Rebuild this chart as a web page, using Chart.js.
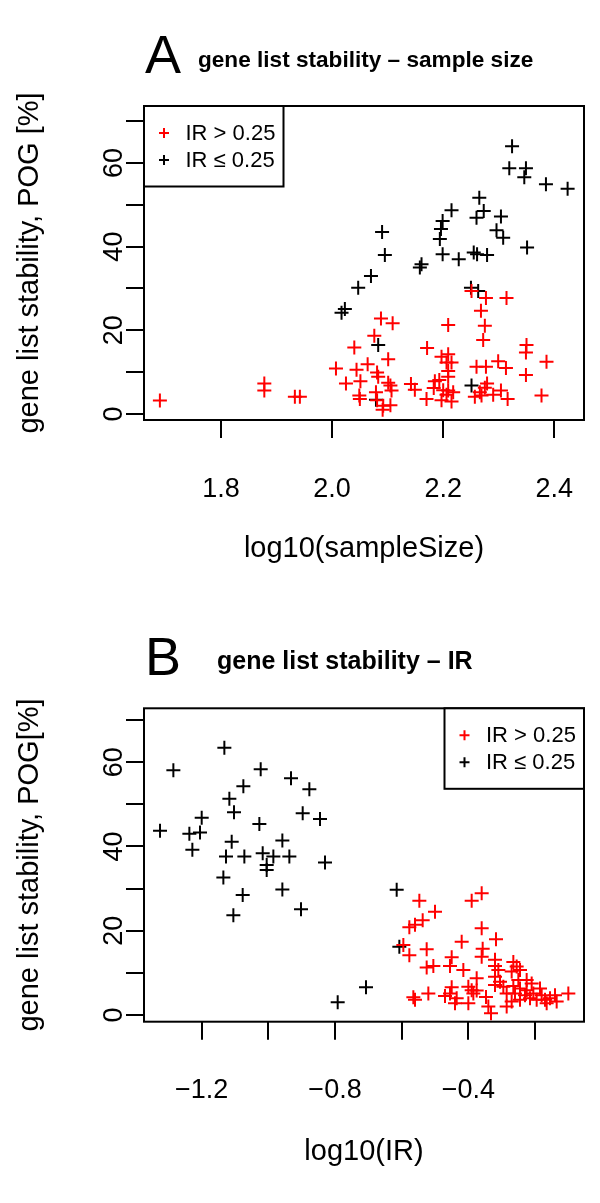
<!DOCTYPE html>
<html>
<head>
<meta charset="utf-8">
<script src="https://cdn.jsdelivr.net/npm/chart.js@4.4.1/dist/chart.umd.min.js"></script>
<style>
html, body { margin: 0; padding: 0; background: #fff; }
.panel { position: absolute; left: 0; width: 600px; }
#boxA { top: 0; height: 600px; }
#boxB { top: 600px; height: 603px; }
</style>
</head>
<body>
<div class="panel" id="boxA"><canvas id="chartA"></canvas></div>
<div class="panel" id="boxB"><canvas id="chartB"></canvas></div>
<script>
'use strict';
// panel A: POG vs log10(sample size)
const sizeRedX = [1.690, 1.878, 1.878, 1.933, 1.942, 2.007, 2.025, 2.040, 2.044, 2.051, 2.049, 2.050, 2.064, 2.076, 2.088, 2.109, 2.101, 2.081, 2.083, 2.101, 2.105, 2.107, 2.079, 2.092, 2.091, 2.105, 2.081, 2.142, 2.149, 2.251, 2.277, 2.314, 2.268, 2.209, 2.275, 2.272, 2.171, 2.350, 2.349, 2.197, 2.209, 2.386, 2.260, 2.277, 2.299, 2.313, 2.206, 2.215, 2.209, 2.209, 2.349, 2.185, 2.193, 2.183, 2.200, 2.209, 2.218, 2.170, 2.197, 2.215, 2.206, 2.257, 2.266, 2.275, 2.279, 2.269, 2.290, 2.304, 2.316, 2.377];
const sizeRedY = [3.2, 7.3, 5.6, 4.1, 4.1, 10.9, 7.3, 15.9, 10.6, 7.8, 4.4, 3.6, 11.9, 18.7, 22.8, 21.7, 13.1, 9.9, 8.9, 7.5, 6.8, 5.6, 5.2, 2.0, 1.0, 2.1, 3.3, 7.2, 5.8, 29.4, 27.7, 27.7, 24.7, 21.3, 21.1, 17.7, 15.8, 16.5, 14.7, 13.7, 14.3, 12.5, 11.3, 11.3, 12.6, 11.0, 12.3, 12.3, 10.3, 8.9, 9.3, 7.8, 8.1, 6.2, 5.7, 5.6, 5.2, 3.6, 3.3, 3.0, 4.6, 4.1, 5.2, 6.3, 7.3, 4.4, 4.6, 5.6, 3.6, 4.4];
const sizeBlackX = [2.324, 2.319, 2.349, 2.346, 2.385, 2.424, 2.265, 2.215, 2.273, 2.260, 2.304, 2.199, 2.196, 2.296, 2.308, 2.194, 2.090, 2.095, 2.351, 2.199, 2.228, 2.255, 2.261, 2.279, 2.161, 2.158, 2.070, 2.047, 2.250, 2.263, 2.023, 2.017, 2.083, 2.079, 2.251];
const sizeBlackY = [64.0, 58.7, 58.7, 56.6, 54.9, 53.8, 51.7, 48.7, 48.5, 46.9, 47.2, 46.1, 44.2, 43.9, 42.1, 41.8, 43.5, 38.0, 39.8, 38.2, 37.0, 38.6, 38.2, 38.0, 35.8, 35.0, 33.0, 30.2, 30.2, 29.4, 25.1, 24.2, 16.5, 3.4, 6.8];

// panel B: POG vs log10(IR)
const irRedX = [-0.547, -0.390, -0.360, -0.500, -0.537, -0.560, -0.577, -0.360, -0.420, -0.317, -0.595, -0.577, -0.525, -0.357, -0.360, -0.450, -0.455, -0.415, -0.505, -0.525, -0.320, -0.320, -0.310, -0.265, -0.255, -0.270, -0.245, -0.375, -0.400, -0.390, -0.450, -0.455, -0.470, -0.435, -0.440, -0.400, -0.385, -0.375, -0.347, -0.340, -0.332, -0.565, -0.560, -0.520, -0.285, -0.320, -0.305, -0.320, -0.295, -0.285, -0.260, -0.245, -0.250, -0.225, -0.210, -0.185, -0.205, -0.230, -0.215, -0.195, -0.180, -0.170, -0.155, -0.140, -0.135, -0.165, -0.100, -0.270, -0.245, -0.265, -0.225];
const irRedY = [27.1, 27.1, 28.9, 24.5, 22.5, 21.4, 20.8, 20.6, 17.4, 18.0, 16.6, 14.2, 15.6, 15.7, 13.8, 13.7, 11.6, 10.7, 11.6, 11.3, 13.1, 11.6, 10.7, 12.6, 11.5, 10.3, 10.7, 8.7, 6.7, 5.9, 6.6, 5.1, 4.5, 4.0, 2.8, 2.8, 5.1, 5.8, 4.3, 2.0, 0.4, 4.2, 3.6, 5.1, 2.0, 9.1, 7.9, 7.1, 6.7, 5.1, 5.1, 6.3, 8.3, 8.3, 7.5, 6.3, 5.1, 4.7, 4.0, 3.6, 4.7, 3.6, 4.0, 4.7, 3.2, 2.8, 5.1, 3.2, 3.6, 6.9, 5.9];
const irBlackX = [-1.132, -1.285, -1.023, -0.932, -1.075, -0.877, -1.117, -1.103, -1.200, -0.897, -0.845, -1.325, -1.237, -1.205, -1.027, -1.110, -0.958, -1.228, -1.127, -1.072, -1.017, -0.985, -0.937, -1.005, -1.005, -0.830, -1.135, -0.958, -1.077, -0.902, -1.105, -0.792, -0.707, -0.615, -0.607];
const irBlackY = [63.4, 58.1, 58.3, 56.2, 54.3, 53.6, 51.3, 48.1, 46.8, 47.9, 46.5, 43.7, 43.0, 43.3, 45.3, 41.1, 41.4, 39.2, 37.6, 37.6, 38.4, 37.6, 37.6, 35.6, 34.4, 36.2, 32.6, 29.8, 28.5, 25.1, 23.7, 3.0, 6.6, 29.7, 16.2];

// ticks
const sizeTicks = [1.8, 2.0, 2.2, 2.4];
const sizeTickLabels = ['1.8', '2.0', '2.2', '2.4'];
const irTicks = [-1.2, -1.0, -0.8, -0.6, -0.4, -0.2];
const irTickLabels = ['\u22121.2', '', '\u22120.8', '', '\u22120.4', ''];
const pogTicks = [0, 10, 20, 30, 40, 50, 60, 70];
const pogTickLabels = ['0', '', '20', '', '40', '', '60', ''];

const legendLabels = ['IR > 0.25', 'IR \u2264 0.25'];
const fam = '"Liberation Sans", Arial, Helvetica, sans-serif';

function pairs(xs, ys) {
  return xs.map((x, i) => ({x: x, y: ys[i]}));
}

// box, heading, rotated y labels and the legend, drawn R style
const rStyle = {
  id: 'rStyle',
  afterDraw(chart, args, o) {
    const ctx = chart.ctx, a = chart.chartArea;
    ctx.save();
    ctx.strokeStyle = '#000';
    ctx.lineWidth = 2;
    ctx.strokeRect(a.left, a.top, a.right - a.left, a.bottom - a.top);

    ctx.fillStyle = '#000';
    ctx.textAlign = 'left';
    ctx.textBaseline = 'alphabetic';
    ctx.font = '54px ' + fam;
    ctx.fillText(o.letter, o.letterX, o.letterY);
    ctx.font = 'bold ' + o.headingSize + 'px ' + fam;
    ctx.fillText(o.heading, o.headingX, o.headingY);

    const ys = chart.scales.y;
    ctx.font = '27px ' + fam;
    ctx.textAlign = 'center';
    ctx.textBaseline = 'middle';
    o.yTicks.forEach((v, i) => {
      if (!o.yLabels[i]) return;
      ctx.save();
      ctx.translate(o.yLabelX, ys.getPixelForValue(v));
      ctx.rotate(-Math.PI / 2);
      ctx.fillText(o.yLabels[i], 0, 0);
      ctx.restore();
    });

    // legend
    const w = o.legendW, h = o.legendH;
    const lx = o.legendRight ? a.right - w : a.left;
    const ly = a.top;
    ctx.fillStyle = '#fff';
    ctx.fillRect(lx, ly, w, h);
    ctx.strokeRect(lx, ly, w, h);
    ctx.font = '22px ' + fam;
    ctx.textAlign = 'left';
    chart.data.datasets.forEach((ds, i) => {
      const cy = ly + 27 + i * 27;
      const cx = lx + 20;
      ctx.strokeStyle = ds.borderColor;
      ctx.beginPath();
      ctx.moveTo(cx - 5, cy); ctx.lineTo(cx + 5, cy);
      ctx.moveTo(cx, cy - 5); ctx.lineTo(cx, cy + 5);
      ctx.stroke();
      ctx.fillStyle = '#000';
      ctx.fillText(ds.label, lx + 41.5, cy + 1);
    });
    ctx.restore();
  }
};

function makeChart(id, cfg) {
  const ctx = document.getElementById(id).getContext('2d');
  return new Chart(ctx, {
    type: 'scatter',
    data: {
      datasets: [{
        label: legendLabels[0],
        data: pairs(cfg.redX, cfg.redY),
        borderColor: '#ff0000',
        backgroundColor: '#ff0000'
      }, {
        label: legendLabels[1],
        data: pairs(cfg.blackX, cfg.blackY),
        borderColor: '#000000',
        backgroundColor: '#000000'
      }]
    },
    plugins: [rStyle],
    options: {
      responsive: true,
      maintainAspectRatio: false,
      animation: false,
      events: [],
      layout: { padding: { top: cfg.top, right: 16, left: 0, bottom: 0 } },
      elements: { point: { pointStyle: 'cross', radius: 7, borderWidth: 2 } },
      scales: {
        x: {
          type: 'linear',
          min: cfg.xMin,
          max: cfg.xMax,
          afterBuildTicks: s => { s.ticks = cfg.xTicks.map(v => ({value: v})); },
          afterFit: s => {
            s.height = cfg.xHeight;
            // keep the plot box fixed, labels may overhang
            s.paddingLeft = 0;
            s.paddingRight = 0;
          },
          ticks: {
            color: '#000',
            font: { family: fam, size: 27 },
            padding: 35,
            maxRotation: 0,
            autoSkip: false,
            callback: (v, i) => cfg.xLabels[i]
          },
          grid: { drawOnChartArea: false, tickLength: 18, color: '#000', lineWidth: 2 },
          border: { display: false },
          title: {
            display: true,
            text: cfg.xTitle,
            color: '#000',
            font: { family: fam, size: 29 },
            padding: { top: 0, bottom: 34 }
          }
        },
        y: {
          type: 'linear',
          min: cfg.yMin,
          max: cfg.yMax,
          afterBuildTicks: s => { s.ticks = pogTicks.map(v => ({value: v})); },
          afterFit: s => { s.width = 144; },
          ticks: { display: false },
          grid: { drawOnChartArea: false, tickLength: 18, color: '#000', lineWidth: 2 },
          border: { display: false },
          title: {
            display: true,
            text: cfg.yTitle,
            color: '#000',
            font: { family: fam, size: 29 },
            padding: { top: 13, bottom: 0 }
          }
        }
      },
      plugins: {
        legend: { display: false },
        tooltip: { enabled: false },
        rStyle: {
          letter: cfg.letter, letterX: 145, letterY: cfg.letterY,
          heading: cfg.heading, headingX: cfg.headingX, headingY: cfg.headingY, headingSize: cfg.headingSize,
          yTicks: pogTicks, yLabels: pogTickLabels, yLabelX: 115,
          legendW: 139.5, legendH: 80.5, legendRight: cfg.legendRight
        }
      }
    }
  });
}

makeChart('chartA', {
  redX: sizeRedX, redY: sizeRedY, blackX: sizeBlackX, blackY: sizeBlackY,
  xMin: 1.6614, xMax: 2.4535, yMin: -1.43, yMax: 73.6,
  xTicks: sizeTicks, xLabels: sizeTickLabels,
  xTitle: 'log10(sampleSize)', yTitle: 'gene list stability, POG [%]',
  top: 106, xHeight: 180,
  letter: 'A', letterY: 73, heading: 'gene list stability \u2013 sample size', headingX: 198, headingY: 67, headingSize: 22.6,
  legendRight: false
});

makeChart('chartB', {
  redX: irRedX, redY: irRedY, blackX: irBlackX, blackY: irBlackY,
  xMin: -1.3731, xMax: -0.053, yMin: -1.59, yMax: 72.78,
  xTicks: irTicks, xLabels: irTickLabels,
  xTitle: 'log10(IR)', yTitle: 'gene list stability, POG[%]',
  top: 108.3, xHeight: 181.3,
  letter: 'B', letterY: 75, heading: 'gene list stability \u2013 IR', headingX: 217, headingY: 69, headingSize: 25,
  legendRight: true
});
</script>
</body>
</html>
